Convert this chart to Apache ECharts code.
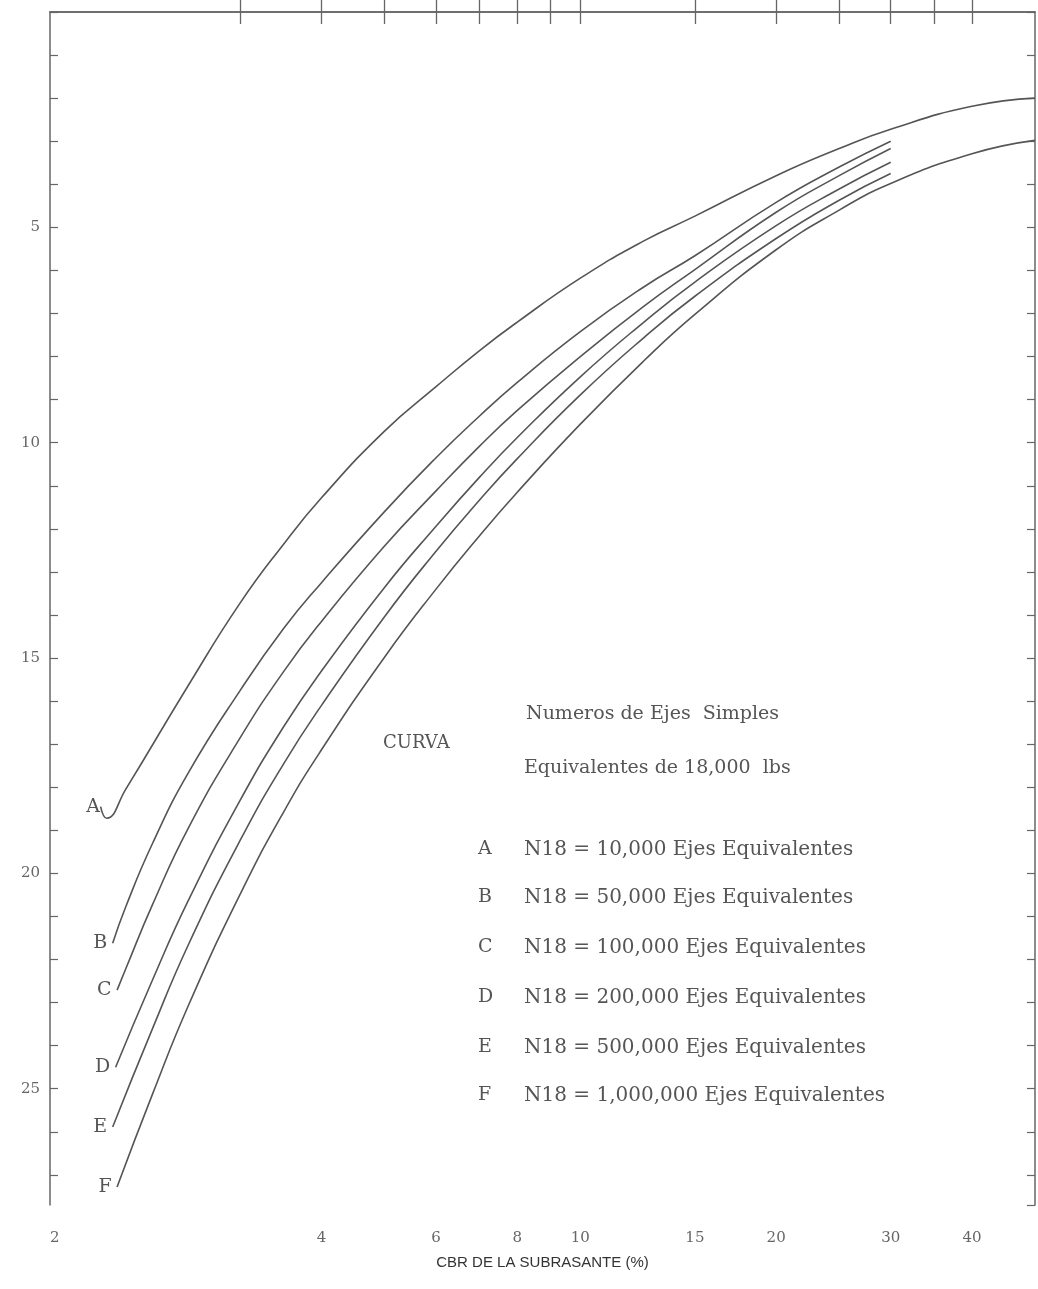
<!DOCTYPE html>
<html>
<head>
<meta charset="utf-8">
<script src="https://cdn.jsdelivr.net/npm/echarts@6/dist/echarts.min.js"></script>
<style>html,body{margin:0;padding:0;background:#fff}#c{width:1038px;height:1289px}</style>
</head>
<body>
<div id="c"></div>
<script>
// ---- Data (CBR %, depth) ----
const curveNames = ['A','B','C','D','E','F'];
const cbrA = [1.83, 1.87, 2, 2.5, 3, 3.5, 4, 5, 6, 7, 8, 10, 12.5, 15, 20, 25, 30, 40, 50];
const depA = [18.45, 18.72, 18.05, 15.62, 13.72, 12.35, 11.28, 9.73, 8.70, 7.86, 7.2, 6.18, 5.32, 4.74, 3.80, 3.17, 2.72, 2.19, 2.0];
const cbrB = [1.91, 2, 2.2, 2.5, 3, 3.5, 4, 5, 6, 7, 8, 10, 12.5, 15, 20, 25, 30];
const depB = [21.62, 20.78, 19.30, 17.65, 15.75, 14.31, 13.25, 11.6, 10.35, 9.38, 8.6, 7.42, 6.39, 5.66, 4.42, 3.6, 3.0];
const cbrC = [1.94, 2, 2.2, 2.5, 3, 3.5, 4, 5, 6, 7, 8, 10, 12.5, 15, 20, 25, 30];
const depC = [22.71, 22.22, 20.72, 18.93, 16.85, 15.31, 14.15, 12.4, 11.12, 10.08, 9.25, 8.0, 6.84, 5.98, 4.65, 3.8, 3.17];
const cbrD = [1.93, 2.2, 2.5, 3, 3.5, 4, 5, 6, 7, 8, 10, 12.5, 15, 20, 25, 30];
const depD = [24.5, 22.47, 20.61, 18.30, 16.59, 15.30, 13.36, 11.94, 10.80, 9.88, 8.47, 7.21, 6.27, 4.96, 4.11, 3.49];
const cbrE = [1.91, 2.2, 2.5, 3, 3.5, 4, 5, 6, 7, 8, 10, 12.5, 15, 20, 25, 30];
const depE = [25.89, 23.60, 21.64, 19.23, 17.45, 16.10, 14.04, 12.52, 11.33, 10.37, 8.89, 7.57, 6.60, 5.26, 4.37, 3.75];
const cbrF = [1.94, 2.2, 2.5, 3, 3.5, 4, 5, 6, 7, 8, 10, 12.5, 15, 20, 25, 30, 40, 50];
const depF = [27.28, 25.12, 23.05, 20.48, 18.57, 17.13, 14.98, 13.40, 12.16, 11.15, 9.57, 8.11, 7.02, 5.52, 4.60, 3.98, 3.29, 2.98];

const xTickCbr = [3, 4, 5, 6, 7, 8, 9, 10, 15, 20, 25, 30, 35, 40];
const xLabelCbr = [2, 4, 6, 8, 10, 15, 20, 30, 40];
const yLabelVals = [5, 10, 15, 20, 25];
const xMinCbr = 1.53, xMaxCbr = 50;
const yMin = 0, yMax = 27.7;

const legendHeader1 = 'Numeros de Ejes  Simples';
const legendHeader2 = 'Equivalentes de 18,000  lbs';
const legendCurva = 'CURVA';
const legendRows = [
  'N18 = 10,000 Ejes Equivalentes',
  'N18 = 50,000 Ejes Equivalentes',
  'N18 = 100,000 Ejes Equivalentes',
  'N18 = 200,000 Ejes Equivalentes',
  'N18 = 500,000 Ejes Equivalentes',
  'N18 = 1,000,000 Ejes Equivalentes'
];
const xAxisTitle = 'CBR DE LA SUBRASANTE (%)';

// ---- Build ----
const L = Math.log10;
const xMin = L(xMinCbr), xMax = L(xMaxCbr);
const cbrs = [cbrA, cbrB, cbrC, cbrD, cbrE, cbrF];
const deps = [depA, depB, depC, depD, depE, depF];
const ink = '#555';
const serif = 'DejaVu Serif';

const labelPos = xLabelCbr.map(v => v === xLabelCbr[0] ? xMin : L(v));
function fmtX(v) {
  let best = 0, bd = 1e9;
  labelPos.forEach((p, i) => { const d = Math.abs(p - v); if (d < bd) { bd = d; best = i; } });
  return String(xLabelCbr[best]);
}

const series = curveNames.map((n, i) => {
  const data = cbrs[i].map((c, j) => [L(c), deps[i][j]]);
  return {
    name: n, type: 'line', smooth: 0.5, symbol: 'none',
    lineStyle: { color: ink, width: 1.6 },
    data: data,
    markPoint: {
      symbol: 'circle', symbolSize: 1,
      itemStyle: { color: 'rgba(0,0,0,0)' },
      label: { show: true, position: 'left', distance: i === 0 ? 0 : 5, formatter: n,
        fontFamily: serif, fontSize: 19, color: ink },
      data: [{ coord: data[0] }]
    },
    z: 3
  };
});

const graphics = [];
const tStyle = (t, x, y, size) => ({ type: 'text', left: x, top: y,
  style: { text: t, font: size + 'px "' + serif + '"', fill: ink } });
graphics.push(tStyle(legendHeader1, 526, 705, 19));
graphics.push(tStyle(legendCurva, 383, 734, 18));
graphics.push(tStyle(legendHeader2, 524, 759, 19));
const rowY = [840, 888, 938, 988, 1038, 1086];
legendRows.forEach((r, i) => {
  graphics.push(tStyle(curveNames[i], 478, rowY[i], 19));
  graphics.push(tStyle(r, 524, rowY[i], 20));
});

const chart = echarts.init(document.getElementById('c'), null, { renderer: 'canvas' });
const axisColor = '#666';
chart.setOption({
  animation: false,
  backgroundColor: '#fff',
  grid: { left: 50, right: 3, top: 12, bottom: 84, containLabel: false },
  xAxis: [
    {
      type: 'value', min: xMin, max: xMax, position: 'bottom',
      name: xAxisTitle, nameLocation: 'middle', nameGap: 50,
      nameTextStyle: { fontFamily: 'Liberation Sans', fontSize: 15, color: '#333' },
      axisLine: { show: true, lineStyle: { color: axisColor, width: 1.5 } },
      axisTick: { show: true, inside: true, length: 12, customValues: xTickCbr.map(L),
        lineStyle: { color: axisColor, width: 1.3 } },
      axisLabel: { show: true, customValues: labelPos, formatter: fmtX, margin: 26,
        alignMinLabel: 'left',
        fontFamily: serif, fontSize: 15, color: '#666' },
      splitLine: { show: false }
    },
    {
      type: 'value', min: xMin, max: xMax, position: 'top',
      axisLine: { show: true, lineStyle: { color: axisColor, width: 1.5 } },
      axisTick: { show: true, inside: true, length: 12, customValues: xTickCbr.map(L),
        lineStyle: { color: axisColor, width: 1.3 } },
      axisLabel: { show: false },
      splitLine: { show: false }
    }
  ],
  yAxis: [
    {
      type: 'value', inverse: true, min: yMin, max: yMax, interval: 1, position: 'left',
      axisLine: { show: true, lineStyle: { color: axisColor, width: 1.5 } },
      axisTick: { show: true, inside: true, length: 8, lineStyle: { color: axisColor, width: 1.2 } },
      axisLabel: { show: true, margin: 10, showMaxLabel: false,
        formatter: v => (yLabelVals.indexOf(v) >= 0 ? String(v) : ''),
        fontFamily: serif, fontSize: 15, color: '#666' },
      splitLine: { show: false }
    },
    {
      type: 'value', inverse: true, min: yMin, max: yMax, interval: 1, position: 'right',
      axisLine: { show: true, lineStyle: { color: axisColor, width: 1.5 } },
      axisTick: { show: true, inside: true, length: 8, lineStyle: { color: axisColor, width: 1.2 } },
      axisLabel: { show: false },
      splitLine: { show: false }
    }
  ],
  series: series,
  graphic: graphics
});
</script>
</body>
</html>
